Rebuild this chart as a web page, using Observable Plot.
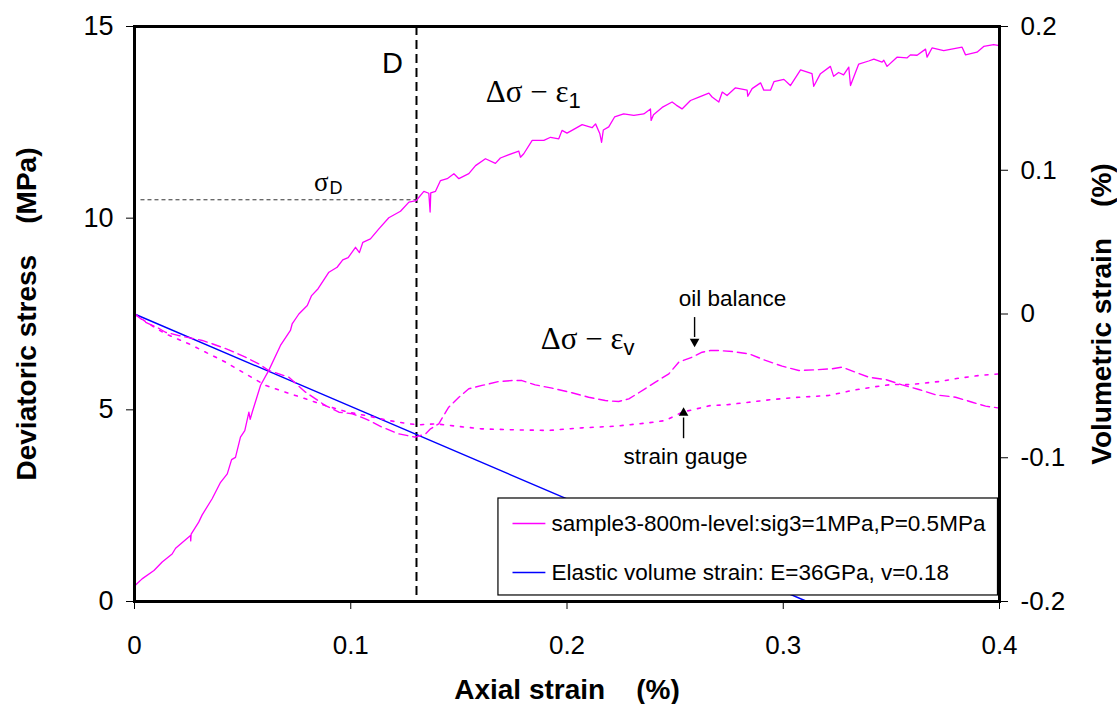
<!DOCTYPE html>
<html>
<head>
<meta charset="utf-8">
<script src="https://cdn.jsdelivr.net/npm/d3@7"></script>
<script src="https://cdn.jsdelivr.net/npm/@observablehq/plot@0.6"></script>
<style>
  html, body { margin: 0; padding: 0; background: #fff; }
  #chart svg { display: block; }
</style>
</head>
<body>
<div id="chart"></div>
<script>
// ---------- data ----------
// Δσ – ε1 : axial strain (%) vs deviatoric stress (MPa)
const axialStrain = [0.0005,0.0035,0.009,0.0128,0.0174,0.019,0.0259,0.026,0.0262,0.0297,0.0313,0.0359,0.0398,0.0429,0.0449,0.0467,0.049,0.051,0.0529,0.0535,0.0545,0.0583,0.0621,0.0675,0.0721,0.0729,0.076,0.0799,0.0819,0.0849,0.0899,0.0937,0.0963,0.0988,0.1022,0.104,0.1056,0.1091,0.113,0.1176,0.123,0.1269,0.1303,0.1338,0.1361,0.1367,0.137,0.1392,0.1415,0.1446,0.1477,0.15,0.1546,0.1577,0.1623,0.1669,0.1692,0.1723,0.1777,0.1785,0.18,0.1839,0.1893,0.1924,0.1962,0.1977,0.2,0.2023,0.207,0.2116,0.2132,0.2152,0.216,0.2168,0.2193,0.222,0.2262,0.2309,0.2355,0.2386,0.2389,0.24,0.244,0.2486,0.2505,0.2532,0.2571,0.261,0.2656,0.2671,0.2702,0.2718,0.274,0.2779,0.2833,0.2836,0.2856,0.2895,0.291,0.2941,0.2957,0.3003,0.3033,0.308,0.3133,0.3141,0.3172,0.3218,0.3233,0.3256,0.3279,0.3303,0.3311,0.3349,0.3395,0.3419,0.3457,0.3465,0.348,0.3526,0.3572,0.3588,0.3619,0.3658,0.3665,0.3688,0.3742,0.3827,0.3843,0.3896,0.3927,0.3973,0.4];
const deviatoricStress = [0.43,0.59,0.81,1.03,1.24,1.39,1.72,1.58,1.76,2.07,2.26,2.68,3.11,3.33,3.70,3.76,4.29,4.46,4.94,4.75,4.95,5.64,6.03,6.68,7.07,7.24,7.50,7.72,7.98,8.16,8.59,8.72,8.91,8.97,9.24,9.10,9.37,9.46,9.72,10.01,10.18,10.42,10.46,10.70,10.65,10.16,10.66,10.70,10.98,11.03,11.16,11.03,11.16,11.37,11.55,11.43,11.57,11.64,11.75,11.59,11.68,12.03,12.03,12.11,12.07,12.29,12.22,12.29,12.44,12.36,12.46,12.20,11.98,12.30,12.38,12.64,12.72,12.68,12.72,12.85,12.55,12.70,12.89,13.03,12.95,12.85,13.07,13.16,13.26,13.16,13.03,13.29,13.20,13.40,13.34,13.18,13.38,13.53,13.34,13.34,13.56,13.62,13.46,13.87,13.77,13.44,13.77,13.96,13.70,13.80,13.74,13.94,13.46,14.02,14.10,14.15,14.07,14.12,13.96,14.20,14.18,14.26,14.25,14.41,14.20,14.44,14.37,14.46,14.26,14.33,14.48,14.53,14.50];

// Δσ – εv, oil balance (dashed): axial strain (%) vs volumetric strain (%)
const oilStrain = [0,0.0051,0.0112,0.0143,0.0205,0.0313,0.0359,0.0436,0.0513,0.0575,0.0621,0.0714,0.0791,0.0883,0.0945,0.1007,0.1068,0.1145,0.1222,0.1299,0.1346,0.1369,0.1407,0.143,0.1453,0.15,0.1546,0.1607,0.1684,0.1746,0.1792,0.1853,0.1931,0.2023,0.21,0.2177,0.2239,0.2286,0.2332,0.2409,0.2471,0.2517,0.2579,0.2625,0.2663,0.2702,0.2764,0.2841,0.2918,0.2995,0.3072,0.3149,0.3226,0.3272,0.3334,0.3396,0.3473,0.355,0.3627,0.3704,0.3797,0.3874,0.3936,0.4];
const oilVolumetric = [0,-0.0057,-0.0099,-0.0127,-0.015,-0.0184,-0.0207,-0.0249,-0.030,-0.0347,-0.0393,-0.044,-0.0544,-0.0637,-0.0683,-0.0694,-0.0729,-0.0787,-0.0834,-0.0857,-0.0834,-0.0799,-0.0764,-0.0706,-0.0648,-0.0579,-0.052,-0.0497,-0.047,-0.0463,-0.0463,-0.0493,-0.0516,-0.0548,-0.0579,-0.0602,-0.0609,-0.059,-0.0548,-0.0474,-0.0416,-0.0335,-0.030,-0.0266,-0.0254,-0.0254,-0.0261,-0.0277,-0.0323,-0.0363,-0.0393,-0.0388,-0.0381,-0.037,-0.0405,-0.044,-0.0456,-0.0493,-0.0525,-0.0562,-0.0579,-0.0614,-0.0641,-0.0655];

// Δσ – εv, strain gauge (dotted)
const gaugeStrain = [0,0.0066,0.0143,0.0251,0.0344,0.0421,0.0513,0.0606,0.0698,0.0791,0.0883,0.0976,0.1068,0.1176,0.1269,0.1315,0.1392,0.1484,0.1607,0.1762,0.1916,0.207,0.2227,0.2378,0.2455,0.2533,0.2663,0.2733,0.2841,0.2948,0.3072,0.321,0.3318,0.3411,0.3503,0.3596,0.3719,0.3811,0.3904,0.4];
const gaugeVolumetric = [0,-0.0068,-0.0138,-0.0207,-0.0277,-0.0335,-0.0416,-0.0497,-0.0544,-0.059,-0.0637,-0.0678,-0.0706,-0.0741,-0.0764,-0.0771,-0.0764,-0.078,-0.0799,-0.0806,-0.081,-0.0792,-0.078,-0.0757,-0.0741,-0.0683,-0.0637,-0.0632,-0.0614,-0.0595,-0.0579,-0.0567,-0.0532,-0.0509,-0.049,-0.049,-0.047,-0.0447,-0.0428,-0.0416];

// Elastic volume strain line
const elasticStrain = [0, 0.311];
const elasticVolumetric = [0, -0.2];

// Point D
const pointD = 0.1304;
const sigmaD = 10.48;

// ticks
const xTicks = [0, 0.1, 0.2, 0.3, 0.4];
const stressTicks = [0, 5, 10, 15];
const volTicks = [-0.2, -0.1, 0, 0.1, 0.2];

const legendLabels = ["sample3-800m-level:sig3=1MPa,P=0.5MPa", "Elastic volume strain: E=36GPa, v=0.18"];
const xLabel = "Axial strain\u00a0\u00a0\u00a0\u00a0(%)";
const yLabel = "Deviatoric stress\u00a0\u00a0\u00a0\u00a0(MPa)";
const y2Label = "Volumetric strain\u00a0\u00a0\u00a0\u00a0(%)";

// ---------- layout of annotations (data units) ----------
const layout = {
  dLabel: {x: 0.1193, y: 13.78},
  sigmaLabel: {x: 0.0897, y: 10.70},
  eps1Label: {x: 0.2007, y: 13.02},
  epsvLabel: {x: 0.2261, y: 6.60},
  oilLabel: {x: 0.2765, y: 7.72},
  gaugeLabel: {x: 0.2548, y: 3.60},
  oilArrow: {x: 0.259, y1: 7.42, y2: 6.90, tip: 6.78},
  gaugeArrow: {x: 0.2539, y1: 4.26, y2: 4.80, tip: 4.92},
  legendBox: {x1: 0.1683, x2: 0.3993, y1: 0.157, y2: 2.687},
  legendRows: [2.035, 0.757],
  legendLine: {x1: 0.1748, x2: 0.19},
  legendText: 0.1928
};

// ---------- build ----------
const sans = "'Liberation Sans', Arial, Helvetica, sans-serif";
const serif = "'Liberation Serif', 'Times New Roman', serif";
const magenta = "#ff00ff";
const blue = "#0000ff";

const volToStress = d3.scaleLinear().domain([-0.2, 0.2]).range([0, 15]);
const stressToVol = volToStress.invert;

const axial = axialStrain.map((x, i) => ({x, y: deviatoricStress[i]}));
const oil = oilStrain.map((x, i) => ({x, v: oilVolumetric[i]}));
const gauge = gaugeStrain.map((x, i) => ({x, v: gaugeVolumetric[i]}));
const elastic = elasticStrain.map((x, i) => ({x, v: elasticVolumetric[i]}));
const legendItems = legendLabels.map((label, i) => ({label, y: layout.legendRows[i], color: [magenta, blue][i]}));

const fmt = d => String(+(+d).toFixed(3));

const plot = Plot.plot({
  width: 1117,
  height: 704,
  marginLeft: 134,
  marginRight: 118,
  marginTop: 26,
  marginBottom: 103,
  style: {fontFamily: sans, background: "white", color: "black", overflow: "visible"},
  x: {domain: [0, 0.4]},
  y: {domain: [0, 15]},
  marks: [
    // D line and sigma_D line
    Plot.ruleX([pointD], {stroke: "black", strokeWidth: 2, strokeDasharray: "9,5"}),
    Plot.ruleY([sigmaD], {x1: 0.003, x2: pointD, stroke: "#333", strokeWidth: 1, strokeDasharray: "4,3"}),
    // data
    Plot.line(elastic, {x: "x", y: d => volToStress(d.v), stroke: blue, strokeWidth: 1.4}),
    Plot.line(gauge, {x: "x", y: d => volToStress(d.v), stroke: magenta, strokeWidth: 1.6, strokeDasharray: "3,7"}),
    Plot.line(oil, {x: "x", y: d => volToStress(d.v), stroke: magenta, strokeWidth: 1.4, strokeDasharray: "9,5"}),
    Plot.line(axial, {x: "x", y: "y", stroke: magenta, strokeWidth: 1.3}),
    // legend
    Plot.rect([layout.legendBox], {x1: "x1", x2: "x2", y1: "y1", y2: "y2", fill: "white", stroke: "black", strokeWidth: 1.2}),
    Plot.link(legendItems, {x1: layout.legendLine.x1, x2: layout.legendLine.x2, y1: "y", y2: "y", stroke: "color", strokeWidth: 1.4}),
    Plot.text(legendItems, {x: layout.legendText, y: "y", text: "label", textAnchor: "start", fontSize: 22.5, fill: "black"}),
    // annotations
    Plot.text(["D"], {x: layout.dLabel.x, y: layout.dLabel.y, lineAnchor: "bottom", fontSize: 29}),
    Plot.text(["\u03c3"], {x: layout.sigmaLabel.x, y: layout.sigmaLabel.y, lineAnchor: "bottom", textAnchor: "end", fontSize: 27, fontFamily: serif}),
    Plot.text(["D"], {x: layout.sigmaLabel.x, y: layout.sigmaLabel.y, dx: 1, dy: 3, lineAnchor: "bottom", textAnchor: "start", fontSize: 18}),
    Plot.text(["\u0394\u03c3 \u2212 \u03b5"], {x: layout.eps1Label.x, y: layout.eps1Label.y, lineAnchor: "bottom", textAnchor: "end", fontSize: 31, letterSpacing: 1.5, fontFamily: serif}),
    Plot.text(["1"], {x: layout.eps1Label.x, y: layout.eps1Label.y, dy: 6, lineAnchor: "bottom", textAnchor: "start", fontSize: 22}),
    Plot.text(["\u0394\u03c3 \u2212 \u03b5"], {x: layout.epsvLabel.x, y: layout.epsvLabel.y, lineAnchor: "bottom", textAnchor: "end", fontSize: 31, letterSpacing: 1.5, fontFamily: serif}),
    Plot.text(["v"], {x: layout.epsvLabel.x, y: layout.epsvLabel.y, dy: 6, lineAnchor: "bottom", textAnchor: "start", fontSize: 22}),
    Plot.text(["oil balance"], {x: layout.oilLabel.x, y: layout.oilLabel.y, lineAnchor: "bottom", fontSize: 22.5}),
    Plot.text(["strain gauge"], {x: layout.gaugeLabel.x, y: layout.gaugeLabel.y, lineAnchor: "bottom", fontSize: 22.5}),
    Plot.link([layout.oilArrow, layout.gaugeArrow], {x1: "x", x2: "x", y1: "y1", y2: "y2", stroke: "black", strokeWidth: 1.4}),
    Plot.dot([layout.oilArrow], {x: "x", y: "tip", symbol: "triangle2", r: 4.6, fill: "black", rotate: 180}),
    Plot.dot([layout.gaugeArrow], {x: "x", y: "tip", symbol: "triangle2", r: 4.6, fill: "black"}),
    // frame & axes
    Plot.frame({stroke: "black", strokeWidth: 3}),
    Plot.axisX({ticks: xTicks, tickFormat: fmt, tickSize: 8, tickPadding: 26, fontSize: 26, label: null, strokeWidth: 1}),
    Plot.axisY({ticks: stressTicks, tickFormat: fmt, tickSize: 8, tickPadding: 13, fontSize: 27, label: null}),
    Plot.axisY({anchor: "right", ticks: volTicks.map(volToStress), tickFormat: d => fmt(stressToVol(d)), tickSize: 8, tickPadding: 13, fontSize: 26, label: null}),
    // axis titles
    Plot.text([xLabel], {frameAnchor: "bottom", dy: 97, lineAnchor: "bottom", textAnchor: "middle", fontSize: 28, fontWeight: "bold"}),
    Plot.text([yLabel], {frameAnchor: "left", dx: -99, rotate: -90, lineAnchor: "bottom", textAnchor: "middle", fontSize: 28, fontWeight: "bold"}),
    Plot.text([y2Label], {frameAnchor: "right", dx: 111, rotate: -90, lineAnchor: "bottom", textAnchor: "middle", fontSize: 28, fontWeight: "bold"})
  ]
});

document.getElementById("chart").appendChild(plot);
</script>
</body>
</html>
